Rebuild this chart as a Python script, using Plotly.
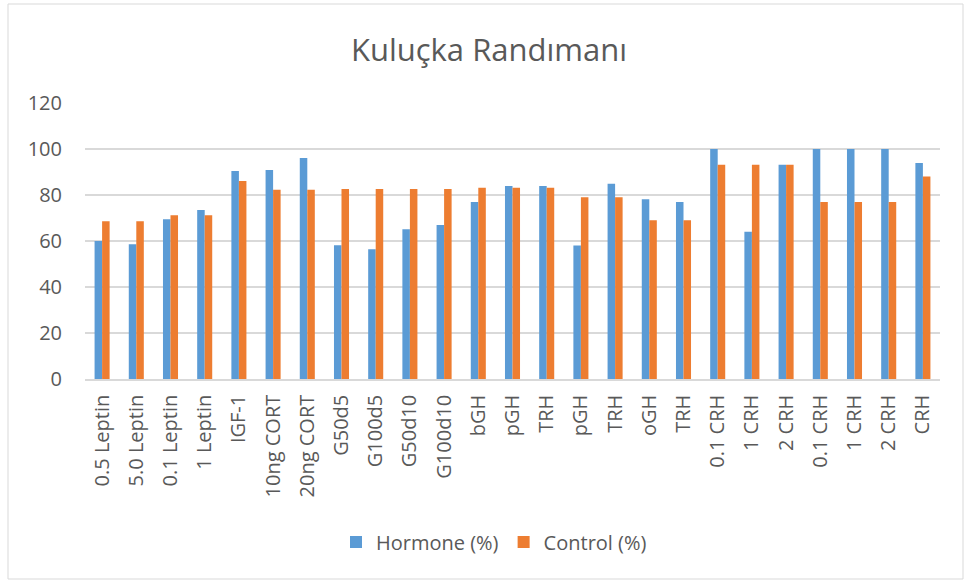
import plotly.graph_objects as go

categories = ["0.5 Leptin", "5.0 Leptin", "0.1 Leptin", "1 Leptin", "IGF-1", "10ng CORT",
              "20ng CORT", "G50d5", "G100d5", "G50d10", "G100d10", "bGH", "pGH", "TRH",
              "pGH", "TRH", "oGH", "TRH", "0.1 CRH", "1 CRH", "2 CRH", "0.1 CRH", "1 CRH",
              "2 CRH", "CRH"]
hormone = [60, 58.6, 69.5, 73.5, 90.4, 90.9, 96.1, 58.2, 56.4, 65.1, 67.0, 77.0, 83.9, 83.9,
           58.0, 84.9, 78.1, 77.0, 100, 64.0, 93.1, 100, 100, 100, 93.9]
control = [68.6, 68.6, 71.2, 71.2, 86.1, 82.3, 82.3, 82.6, 82.6, 82.6, 82.6, 83.1, 83.1, 83.1,
           79.0, 79.0, 69.0, 69.0, 93.1, 93.1, 93.1, 77.0, 77.0, 77.0, 88.0]

# unique x positions since labels repeat
xs = list(range(len(categories)))

font = "Open Sans, Noto Sans, sans-serif"
gray = "#595959"

fig = go.Figure()
fig.add_trace(go.Bar(x=xs, y=hormone, name="Hormone (%)", marker_color="#5B9BD5",
                     marker_line_width=0))
fig.add_trace(go.Bar(x=xs, y=control, name="Control (%)", marker_color="#ED7D31",
                     marker_line_width=0))

fig.update_layout(
    width=966, height=581,
    margin=dict(l=85, r=26, t=103, b=202),
    paper_bgcolor="white", plot_bgcolor="white",
    title=dict(text="Kuluçka Randımanı", x=(489 - 85) / 855, xref="paper", xanchor="center",
               y=1 - 50 / 581, yanchor="middle",
               font=dict(family=font, size=31, color=gray)),
    barmode="group", bargap=0.56, bargroupgap=0.0,
    font=dict(family=font, color=gray, size=19),
    xaxis=dict(tickmode="array", tickvals=xs, ticktext=categories, tickangle=-90,
               showgrid=False, showline=True, linecolor="#D9D9D9", linewidth=1.5,
               tickfont=dict(size=20, color=gray), range=[-0.5, len(xs) - 0.5],
               ticks="outside", ticklen=6, tickcolor="white"),
    yaxis=dict(range=[0, 120], dtick=20, showgrid=True, gridcolor="#D9D9D9", gridwidth=1.5,
               zeroline=False, showline=False, tickfont=dict(size=20, color=gray),
               ticks="outside", ticklen=18, tickcolor="white"),
    legend=dict(orientation="h", x=(494 - 85) / 855, xanchor="center",
                y=(379 - 542) / 276, yanchor="middle", itemwidth=30,
                font=dict(size=20, color=gray), traceorder="normal"),
    shapes=[dict(type="rect", xref="paper", yref="paper",
                 x0=(8 - 85) / 855, x1=(963 - 85) / 855,
                 y0=(379 - 579) / 276, y1=(379 - 4) / 276,
                 line=dict(color="#D9D9D9", width=1), layer="below")],
)

fig.write_html("out.html", config={"displayModeBar": False},
               post_script="document.body.style.margin='0';document.body.style.overflow='hidden';")
